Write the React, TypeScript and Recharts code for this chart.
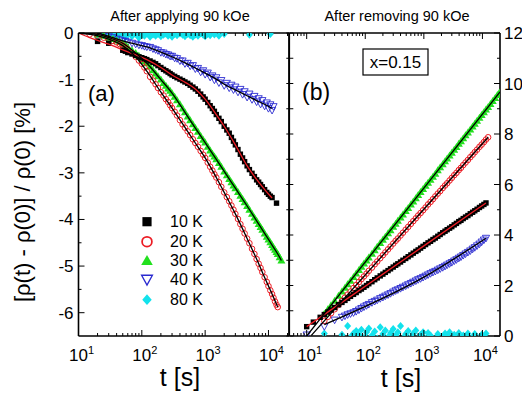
import React from "react";
import { ComposedChart, Scatter, XAxis, YAxis, Legend } from "recharts";

// ---- panel (a): after applying 90 kOe ----
const timesA = [
  12, 15, 20, 25, 30, 35, 40, 45, 50, 55,
  60, 70, 80, 90, 100, 110, 120, 135, 150, 165,
  180, 200, 220, 240, 260, 280, 300, 330, 360, 400,
  440, 480, 530, 580, 640, 700, 770, 850, 930, 1000,
  1100, 1200, 1300, 1400, 1500, 1650, 1800, 2000, 2200, 2400,
  2600, 2800, 3000, 3300, 3600, 3900, 4200, 4600, 5000, 5500,
  6000, 6500, 7000, 7500, 8000, 8700, 9400, 10000, 10700, 11400,
  12000, 12700, 13400, 14000, 15000, 16000,
];
const k10A = [
  null, null, -0.18, null, -0.22, null, null, null, -0.37, -0.39,
  -0.42, -0.45, -0.48, -0.51, -0.53, -0.55, -0.57, -0.6, -0.63, -0.66,
  -0.7, -0.74, -0.78, -0.81, -0.84, -0.87, -0.9, -0.93, -0.96, -0.99,
  -1.02, -1.05, -1.08, -1.12, -1.16, -1.2, -1.25, -1.31, -1.37, -1.42,
  -1.49, -1.56, -1.62, -1.68, -1.75, -1.83, -1.9, -2.0, -2.08, -2.15,
  -2.24, -2.32, -2.4, -2.5, -2.6, -2.68, -2.76, -2.85, -2.93, -3.01,
  -3.08, -3.15, -3.2, -3.25, -3.3, -3.36, -3.42, -3.46, -3.5, -3.53,
  null, null, -3.65, null, null, null,
];
const k20A = [
  null, -0.03, -0.06, -0.1, -0.13, -0.17, -0.2, -0.24, -0.27, -0.31,
  -0.35, -0.43, -0.51, -0.59, -0.66, -0.74, -0.82, -0.94, -1.02, -1.1,
  -1.18, -1.27, -1.34, -1.42, -1.48, -1.55, -1.61, -1.69, -1.77, -1.87,
  -1.96, -2.03, -2.11, -2.19, -2.28, -2.36, -2.44, -2.53, -2.61, -2.68,
  -2.78, -2.87, -2.95, -3.03, -3.1, -3.2, -3.3, -3.42, -3.52, -3.61,
  -3.7, -3.79, -3.88, -3.99, -4.1, -4.2, -4.3, -4.41, -4.51, -4.63,
  -4.74, -4.85, -4.95, -5.04, -5.13, -5.24, -5.34, -5.43, -5.52, -5.6,
  -5.68, -5.76, -5.83, -5.88, null, null,
];
const k30A = [
  null, null, -0.03, -0.06, -0.1, -0.13, -0.16, -0.19, -0.22, -0.26,
  -0.3, -0.37, -0.43, -0.49, -0.54, -0.6, -0.65, -0.72, -0.8, -0.87,
  -0.93, -1.0, -1.07, -1.13, -1.19, -1.24, -1.29, -1.37, -1.44, -1.53,
  -1.62, -1.7, -1.79, -1.87, -1.96, -2.04, -2.12, -2.21, -2.29, -2.35,
  -2.44, -2.52, -2.59, -2.65, -2.71, -2.79, -2.87, -2.97, -3.05, -3.13,
  -3.2, -3.27, -3.33, -3.41, -3.49, -3.56, -3.63, -3.71, -3.79, -3.88,
  -3.96, -4.03, -4.1, -4.16, -4.22, -4.3, -4.37, -4.43, -4.49, -4.55,
  -4.6, -4.65, -4.7, -4.74, -4.81, -4.88,
];
const k40A = [
  null, null, 0.0, -0.04, -0.07, -0.1, -0.13, -0.15, -0.17, -0.18,
  -0.2, -0.22, -0.24, -0.26, -0.27, -0.29, -0.3, -0.31, -0.34, -0.36,
  -0.38, -0.42, -0.43, -0.46, -0.47, -0.5, -0.5, -0.54, -0.55, -0.6,
  -0.6, -0.66, -0.65, -0.71, -0.7, -0.77, -0.76, -0.84, -0.81, -0.89,
  -0.86, -0.95, -0.92, -1.01, -0.96, -1.07, -1.02, -1.13, -1.08, -1.18,
  -1.12, -1.22, -1.16, -1.27, -1.21, -1.32, -1.26, -1.38, -1.31, -1.43,
  -1.36, -1.48, -1.41, -1.53, -1.45, -1.57, -1.5, -1.62, -1.54, -1.66,
  -1.58, null, null, null, null, null,
];
const k80A = [
  null, null, -0.15, -0.03, -0.06, -0.02, -0.08, -0.01, -0.05, -0.09,
  -0.03, -0.07, -0.02, -0.1, -0.04, -0.06, -0.01, -0.08, -0.03, -0.06,
  -0.02, -0.07, -0.04, -0.01, -0.06, -0.03, -0.08, -0.02, -0.05, -0.01,
  -0.04, -0.07, -0.02, -0.05, -0.08, -0.03, -0.06, -0.01, -0.04, -0.07,
  -0.02, -0.05, null, -0.03, null, -0.06, null, -0.02, null, null,
  null, null, null, null, null, null, null, null, -0.04, null,
  null, null, null, null, null, null, null, null, -0.02, null,
  null, null, null, null, null, null,
];

const fitTimesA = [10, 15, 20, 30, 50, 80, 120, 200, 300, 500, 700, 1000, 1500, 2000, 3000, 4500, 6500, 9000, 11400, 14000, 16000];
const fit10A = [0, -0.1, -0.16, -0.24, -0.36, -0.47, -0.57, -0.74, -0.9, -1.07, -1.2, -1.42, -1.75, -2.0, -2.4, -2.83, -3.14, -3.38, -3.54, null, null];
const fit20A = [0, -0.03, -0.06, -0.13, -0.27, -0.51, -0.82, -1.27, -1.61, -2.06, -2.36, -2.68, -3.1, -3.42, -3.88, -4.38, -4.85, -5.29, -5.6, -5.88, null];
const fit30A = [0, -0.01, -0.03, -0.1, -0.22, -0.43, -0.65, -1.0, -1.29, -1.74, -2.04, -2.35, -2.71, -2.97, -3.33, -3.69, -4.03, -4.33, -4.55, -4.74, -4.88];
const fit40A = [null, 0.02, 0.0, -0.07, -0.17, -0.24, -0.3, -0.41, -0.51, -0.65, -0.75, -0.86, -0.99, -1.1, -1.22, -1.34, -1.45, -1.54, -1.62, null, null];

// ---- panel (b): after removing 90 kOe ----
const timesB = [
  10, 13, 17, 20, 23, 26, 30, 35, 40, 45,
  50, 56, 63, 70, 78, 86, 95, 105, 115, 130,
  145, 160, 180, 200, 220, 245, 270, 300, 330, 360,
  400, 440, 490, 540, 600, 660, 730, 800, 880, 970,
  1070, 1180, 1300, 1430, 1570, 1730, 1900, 2100, 2300, 2500,
  2750, 3000, 3300, 3600, 3950, 4300, 4700, 5150, 5650, 6200,
  6800, 7400, 8100, 8900, 9700, 10600, 11500, 12500, 13700, 15000,
  16500, 18000, 19500,
];
const k10B = [
  0.37, 0.55, 0.74, 0.85, 0.95, 1.03, 1.13, 1.24, 1.33, 1.41,
  1.49, 1.57, 1.65, 1.72, 1.8, 1.86, 1.93, 2.0, 2.07, 2.15,
  2.23, 2.3, 2.38, 2.45, 2.52, 2.59, 2.66, 2.73, 2.8, 2.86,
  2.93, 3.0, 3.07, 3.14, 3.21, 3.28, 3.35, 3.41, 3.48, 3.55,
  3.62, 3.69, 3.75, 3.82, 3.88, 3.95, 4.02, 4.09, 4.15, 4.21,
  4.27, 4.33, 4.4, 4.46, 4.53, 4.58, 4.65, 4.71, 4.77, 4.84,
  4.9, 4.96, 5.02, 5.09, 5.15, 5.21, 5.27, null, null, null,
  null, null, null,
];
const k20B = [
  null, null, null, 0.6, 0.76, 0.9, 1.06, 1.23, 1.38, 1.52,
  1.64, 1.76, 1.9, 2.02, 2.14, 2.25, 2.36, 2.47, 2.58, 2.71,
  2.84, 2.95, 3.08, 3.2, 3.31, 3.43, 3.54, 3.66, 3.77, 3.86,
  3.98, 4.09, 4.21, 4.32, 4.44, 4.55, 4.66, 4.77, 4.87, 4.98,
  5.09, 5.21, 5.31, 5.42, 5.53, 5.64, 5.74, 5.86, 5.96, 6.05,
  6.16, 6.26, 6.37, 6.46, 6.57, 6.66, 6.77, 6.87, 6.97, 7.08,
  7.18, 7.28, 7.38, 7.49, 7.58, 7.68, 7.78, 7.87, null, null,
  null, null, null,
];
const k30B = [
  null, null, null, 0.88, 1.06, 1.22, 1.4, 1.59, 1.76, 1.91,
  2.05, 2.19, 2.34, 2.48, 2.61, 2.74, 2.87, 2.99, 3.11, 3.26,
  3.4, 3.53, 3.68, 3.81, 3.93, 4.07, 4.19, 4.33, 4.45, 4.56,
  4.69, 4.81, 4.95, 5.07, 5.21, 5.33, 5.46, 5.58, 5.7, 5.82,
  5.95, 6.07, 6.19, 6.31, 6.43, 6.56, 6.68, 6.8, 6.92, 7.03,
  7.15, 7.26, 7.38, 7.49, 7.61, 7.71, 7.83, 7.95, 8.06, 8.18,
  8.3, 8.41, 8.52, 8.64, 8.75, 8.86, 8.97, 9.07, 9.19, 9.31,
  9.43, 9.54, 9.64,
];
const k40B = [
  0.04, null, null, 0.37, null, null, 0.63, null, 0.74, 0.79,
  0.84, 0.88, 0.92, 0.97, 1.03, 1.09, 1.15, 1.2, 1.25, 1.32,
  1.37, 1.42, 1.48, 1.53, 1.58, 1.63, 1.68, 1.74, 1.79, 1.83,
  1.88, 1.93, 1.98, 2.03, 2.08, 2.13, 2.18, 2.23, 2.27, 2.32,
  2.37, 2.42, 2.47, 2.52, 2.56, 2.61, 2.66, 2.71, 2.76, 2.81,
  2.86, 2.91, 2.97, 3.02, 3.08, 3.13, 3.19, 3.25, 3.31, 3.37,
  3.44, 3.5, 3.57, 3.64, 3.72, 3.8, 3.87, null, null, null,
  null, null, null,
];
const k80B = [
  null, null, null, 0.1, null, null, -0.12, null, 0.05, null,
  0.4, -0.05, 0.1, 0.2, 0.05, 0.25, -0.08, 0.15, 0.3, 0.02,
  0.18, -0.1, 0.35, 0.08, 0.22, -0.05, 0.12, 0.28, 0.02, 0.15,
  0.4, -0.1, 0.08, 0.2, -0.05, 0.1, 0.22, -0.08, 0.05, 0.15,
  -0.1, 0.12, 0.02, null, -0.12, 0.08, null, -0.05, 0.1, -0.02,
  0.15, null, 0.05, -0.1, 0.12, null, 0.02, -0.08, 0.1, null,
  -0.05, 0.08, null, -0.1, 0.05, -0.02, 0.1, null, null, null,
  null, null, null,
];

const fitTimesB = [10, 12, 20, 1000, 11500, 12500, 19950];
const fit10B = [0.37, null, null, 3.57, 5.27, null, null];
const fit20B = [null, 0.02, null, 5.02, null, 7.87, null];
const fit30B = [0.0, null, null, 5.86, null, null, 9.67];
const fit40B = [null, null, 0.45, 2.33, 3.87, null, null];

// ---- axes ----
const logTicksA = [10, 20, 30, 40, 50, 60, 70, 80, 90, 100, 200, 300, 400, 500, 600, 700, 800, 900, 1000, 2000, 3000, 4000, 5000, 6000, 7000, 8000, 9000, 10000, 20000];
const logTicksB = [6, 7, 8, 9, 10, 20, 30, 40, 50, 60, 70, 80, 90, 100, 200, 300, 400, 500, 600, 700, 800, 900, 1000, 2000, 3000, 4000, 5000, 6000, 7000, 8000, 9000, 10000];
const yTicksA = [-6, -5.5, -5, -4.5, -4, -3.5, -3, -2.5, -2, -1.5, -1, -0.5, 0];
const yTicksB = [0, 1, 2, 3, 4, 5, 6, 7, 8, 9, 10, 11, 12];
const legendLabels = ["10 K", "20 K", "30 K", "40 K", "80 K"];

const FONT = "'Liberation Sans', Arial, Helvetica, sans-serif";
const RED = "#ec1c24";
const GREEN = "#22e01e";
const BLUE = "#2a2ad0";
const CYAN = "#12e2ec";
const AX = { stroke: "#000", strokeWidth: 1.6 };

type Pt = { t: number; y: number };
const toPoints = (times: number[], vals: (number | null)[]): Pt[] =>
  times.flatMap((t, i) => (vals[i] == null ? [] : [{ t, y: vals[i] as number }]));

// markers
const square = (p: any) => <rect x={p.cx - 2.7} y={p.cy - 2.7} width={5.4} height={5.4} fill="#000" />;
const circle = (p: any) => <circle cx={p.cx} cy={p.cy} r={2.8} fill="none" stroke={RED} strokeWidth={1} />;
const triUp = (p: any) => (
  <path d={`M${p.cx},${p.cy - 4}L${p.cx + 4},${p.cy + 3}L${p.cx - 4},${p.cy + 3}Z`} fill={GREEN} />
);
const triDown = (p: any) => (
  <path d={`M${p.cx - 3.6},${p.cy - 3}L${p.cx + 3.6},${p.cy - 3}L${p.cx},${p.cy + 3.6}Z`} fill="none" stroke={BLUE} strokeWidth={0.9} />
);
const diamond = (p: any) => (
  <path d={`M${p.cx},${p.cy - 4}L${p.cx + 3.5},${p.cy}L${p.cx},${p.cy + 4}L${p.cx - 3.5},${p.cy}Z`} fill={CYAN} />
);
const noMark = () => <g />;
const legendShapes = [square, circle, triUp, triDown, diamond];
const legendScale = [1.7, 1.75, 1.45, 1.5, 1.35];

const isDecade = (v: number) => Math.abs(Math.log10(v) - Math.round(Math.log10(v))) < 1e-9;

function LogTick(props: any) {
  const { x, y, payload, side, label } = props;
  const v = payload.value;
  const major = isDecade(v);
  const len = major ? 6 : 3;
  const dir = side === "top" ? 1 : -1;
  return (
    <g>
      <line x1={x} x2={x} y1={y} y2={y + dir * len} stroke="#000" strokeWidth={1} />
      {label && major && (
        <text x={x + 3} y={y + 25} textAnchor="middle" fontFamily={FONT} fontSize={17} fill="#000">
          10<tspan dy={-7} fontSize={11}>{Math.round(Math.log10(v))}</tspan>
        </text>
      )}
    </g>
  );
}

function ValueTick(props: any) {
  const { x, y, payload, side, step, label, cross } = props;
  const v = payload.value;
  const major = Math.abs(v / step - Math.round(v / step)) < 1e-9;
  const len = major ? 6 : 3;
  const dir = side === "left" ? 1 : -1;
  return (
    <g>
      <line x1={cross ? x - 3 : x} x2={x + dir * (cross ? 4 : len)} y1={y} y2={y} stroke="#000" strokeWidth={1} />
      {label && major && (
        <text
          x={side === "left" ? x - 5 : x + 4}
          y={y + 6}
          textAnchor={side === "left" ? "end" : "start"}
          fontFamily={FONT}
          fontSize={17}
          fill="#000"
        >
          {String(v)}
        </text>
      )}
    </g>
  );
}

function LegendBox() {
  return (
    <div style={{ fontFamily: FONT, fontSize: 16, color: "#000" }}>
      {legendLabels.map((lab, i) => {
        const Shape = legendShapes[i];
        const s = legendScale[i];
        return (
          <div key={lab} style={{ display: "flex", alignItems: "center", height: 19.4 }}>
            <svg width={16} height={19.4} style={{ overflow: "visible" }}>
              <g transform={`translate(8,9.7) scale(${s})`}>{Shape({ cx: 0, cy: 0 })}</g>
            </svg>
            <span style={{ marginLeft: 15, lineHeight: "19.4px" }}>{lab}</span>
          </div>
        );
      })}
    </div>
  );
}

// fit curves drawn as line-only scatters so they sit on top of the data
const fitCurve = (data: Pt[], color: string, key: string) => (
  <Scatter key={key} data={data} shape={noMark} line={{ stroke: color, strokeWidth: 1.3 }}
    lineJointType="monotoneX" isAnimationActive={false} />
);

function LeftPanel() {
  return (
    <ComposedChart width={300} height={398} margin={{ top: 32, right: 10, bottom: 22, left: 38.5 }}>
      <XAxis dataKey="t" type="number" scale="log" domain={[10, 21100]} allowDataOverflow ticks={logTicksA} interval={0}
        height={40} tickSize={0} tickMargin={0} tickLine={false} axisLine={AX}
        tick={(p: any) => <LogTick {...p} side="bottom" label />} />
      <XAxis xAxisId="top" orientation="top" dataKey="t" type="number" scale="log" domain={[10, 21100]} allowDataOverflow
        ticks={logTicksA} interval={0} height={1} tickSize={0} tickMargin={0} tickLine={false} axisLine={AX}
        tick={(p: any) => <LogTick {...p} side="top" />} />
      <YAxis dataKey="y" type="number" domain={[-6.5, 0]} allowDataOverflow ticks={yTicksA} interval={0}
        width={40} tickSize={0} tickMargin={0} tickLine={false} axisLine={AX}
        tick={(p: any) => <ValueTick {...p} side="left" step={1} label />} />
      <YAxis yAxisId="r" orientation="right" type="number" domain={[-6.5, 0]} allowDataOverflow width={1}
        tick={false} tickLine={false} axisLine={AX} />
      <Scatter data={toPoints(timesA, k80A)} shape={diamond} isAnimationActive={false} />
      <Scatter data={toPoints(timesA, k40A)} shape={triDown} isAnimationActive={false} />
      <Scatter data={toPoints(timesA, k30A)} shape={triUp} isAnimationActive={false} />
      <Scatter data={toPoints(timesA, k20A)} shape={circle} isAnimationActive={false} />
      <Scatter data={toPoints(timesA, k10A)} shape={square} isAnimationActive={false} />
      {fitCurve(toPoints(fitTimesA, fit10A), RED, "f10")}
      {fitCurve(toPoints(fitTimesA, fit20A), "#000", "f20")}
      {fitCurve(toPoints(fitTimesA, fit30A), "#000", "f30")}
      {fitCurve(toPoints(fitTimesA, fit40A), "#000", "f40")}
      <Legend layout="vertical" align="center" verticalAlign="middle" content={() => <LegendBox />}
        wrapperStyle={{ left: 139, top: 212.3, width: 90, height: 100 }} />
    </ComposedChart>
  );
}

function RightPanel() {
  return (
    <ComposedChart width={242} height={398} margin={{ top: 32, right: 2, bottom: 22, left: 8.3 }}>
      <XAxis dataKey="t" type="number" scale="log" domain={[5.05, 19950]} allowDataOverflow ticks={logTicksB} interval={0}
        height={40} tickSize={0} tickMargin={0} tickLine={false} axisLine={AX}
        tick={(p: any) => <LogTick {...p} side="bottom" label />} />
      <XAxis xAxisId="top" orientation="top" dataKey="t" type="number" scale="log" domain={[5.05, 19950]} allowDataOverflow
        ticks={logTicksB} interval={0} height={1} tickSize={0} tickMargin={0} tickLine={false} axisLine={AX}
        tick={(p: any) => <LogTick {...p} side="top" />} />
      <YAxis dataKey="y" type="number" domain={[0, 12]} allowDataOverflow ticks={yTicksB} interval={0}
        width={1} tickSize={0} tickMargin={0} tickLine={false} axisLine={AX}
        tick={(p: any) => <ValueTick {...p} side="left" step={1} cross />} />
      <YAxis yAxisId="r" orientation="right" type="number" domain={[0, 12]} allowDataOverflow ticks={yTicksB} interval={0}
        width={20} tickSize={0} tickMargin={0} tickLine={false} axisLine={AX}
        tick={(p: any) => <ValueTick {...p} side="right" step={2} label />} />
      <Scatter data={toPoints(timesB, k80B)} shape={diamond} isAnimationActive={false} />
      <Scatter data={toPoints(timesB, k40B)} shape={triDown} isAnimationActive={false} />
      <Scatter data={toPoints(timesB, k30B)} shape={triUp} isAnimationActive={false} />
      <Scatter data={toPoints(timesB, k20B)} shape={circle} isAnimationActive={false} />
      <Scatter data={toPoints(timesB, k10B)} shape={square} isAnimationActive={false} />
      {fitCurve(toPoints(fitTimesB, fit10B), RED, "g10")}
      {fitCurve(toPoints(fitTimesB, fit20B), "#000", "g20")}
      {fitCurve(toPoints(fitTimesB, fit30B), "#000", "g30")}
      {fitCurve(toPoints(fitTimesB, fit40B), "#000", "g40")}
    </ComposedChart>
  );
}

export default function App() {
  return (
    <div style={{ position: "absolute", left: 0, top: 0, width: 522, height: 398, background: "#fff", overflow: "hidden" }}>
      <div style={{ position: "absolute", left: 0, top: 0 }}>
        <LeftPanel />
      </div>
      <div style={{ position: "absolute", left: 280, top: 0 }}>
        <RightPanel />
      </div>
      <svg width={522} height={398} style={{ position: "absolute", left: 0, top: 0, pointerEvents: "none" }} fontFamily={FONT}>
        <text x={180} y={20.5} textAnchor="middle" fontSize={14.5}>After applying 90 kOe</text>
        <text x={397} y={20.5} textAnchor="middle" fontSize={14.5}>After removing 90 kOe</text>
        <text transform="translate(23,202) rotate(-90)" y={7} textAnchor="middle" fontSize={22}>
          [ρ(t) - ρ(0)] / ρ(0) [%]
        </text>
        <text x={180} y={386} textAnchor="middle" fontSize={25}>t [s]</text>
        <text x={401} y={387} textAnchor="middle" fontSize={25}>t [s]</text>
        <text x={88} y={101} fontSize={22}>(a)</text>
        <text x={302} y={100} fontSize={23}>(b)</text>
        <rect x={363} y={49} width={65} height={26} fill="#fff" stroke="#000" strokeWidth={1.2} />
        <text x={395.5} y={68} textAnchor="middle" fontSize={17}>x=0.15</text>
      </svg>
    </div>
  );
}
